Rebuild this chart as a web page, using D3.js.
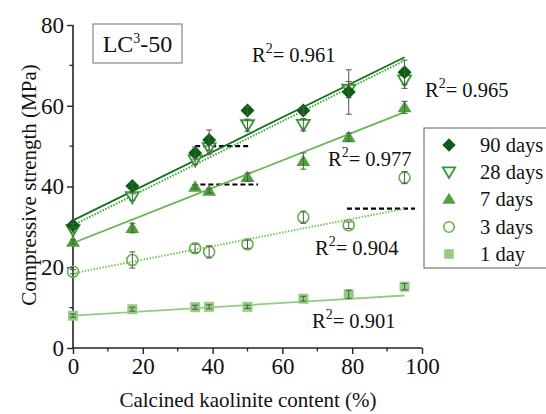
<!DOCTYPE html>
<html><head><meta charset="utf-8">
<script src="https://cdn.jsdelivr.net/npm/d3@7/dist/d3.min.js"></script>
<style>
body{margin:0;background:#fff;overflow:hidden}
svg{display:block}
svg text{font-family:'Liberation Serif','Times New Roman',serif}
</style></head>
<body><svg id="chart" width="546" height="414"></svg>
<script>
// ---- data ----
const kaolinite = [0, 17, 35, 39, 50, 66, 79, 95];
const seriesNames = ["90 days", "28 days", "7 days", "3 days", "1 day"];
const d90 = [30.4, 40.1, 48.3, 51.5, 58.8, 58.8, 63.4, 68.3];
const d28 = [29.2, 37.4, 46.5, 49.5, 55.2, 55.3, 64.0, 66.3];
const d7  = [26.3, 29.7, 39.9, 38.9, 42.3, 46.3, 52.2, 59.6];
const d3v = [18.9, 21.8, 24.7, 23.8, 25.7, 32.4, 30.4, 42.2];
const d1  = [8.0, 9.6, 10.1, 10.2, 10.2, 12.2, 13.3, 15.2];
const e90 = [0.5, 0.8, 1.5, 2.5, 1.0, 1.0, 5.5, 3.0];
const e28 = [0.5, 0.8, 1.0, 1.5, 1.5, 1.5, 2.0, 2.0];
const e7  = [0.5, 1.2, 0.5, 0.5, 1.0, 2.0, 1.0, 1.5];
const e3  = [0.5, 2.0, 1.0, 1.5, 1.0, 1.5, 0.8, 1.5];
const e1  = [0.4, 0.5, 0.5, 0.5, 0.4, 0.6, 1.0, 0.8];
const fitX = [0, 95];
const fit90 = [31.6, 72.0];
const fit28 = [30.4, 71.2];
const fit7  = [26.0, 58.4];
const fit3  = [18.5, 34.5];
const fit1  = [8.0, 13.0];
const r2Labels = ["0.961", "0.965", "0.977", "0.904", "0.901"];
const refLevels = [50, 40.5, 34.5];
const refStart = [35, 36.5, 78.5];
const refEnd = [51, 53, 98];
const xTicks = [0, 20, 40, 60, 80, 100];
const yTicks = [0, 20, 40, 60, 80];

// ---- layout ----
const SERIF = "'Liberation Serif','Times New Roman',serif";
const svg = d3.select("#chart");
const x = d3.scaleLinear().domain([0, 100]).range([73, 422]);
const y = d3.scaleLinear().domain([0, 80]).range([348, 25]);

const colors = ["#0b5e12", "#2f9a2f", "#4da33a", "#62b548", "#93cd82"];
const lineColors = ["#16701c", "#3aa83a", "#62b84c", "#7cc460", "#93cd82"];
const series = [
  {name: seriesNames[0], v: d90, e: e90, fit: fit90, dash: null, sym: "diamond"},
  {name: seriesNames[1], v: d28, e: e28, fit: fit28, dash: "1.5,1.5", sym: "tridown"},
  {name: seriesNames[2], v: d7,  e: e7,  fit: fit7,  dash: null, sym: "triup"},
  {name: seriesNames[3], v: d3v, e: e3,  fit: fit3,  dash: "1.5,1.5", sym: "circle"},
  {name: seriesNames[4], v: d1,  e: e1,  fit: fit1,  dash: null, sym: "square"}
];

// axes
const xAxis = d3.axisBottom(x).tickValues(xTicks).tickSize(6).tickPadding(4).tickFormat(d3.format("d"));
const yAxis = d3.axisLeft(y).tickValues(yTicks).tickSize(6).tickPadding(3).tickFormat(d3.format("d"));
const gx = svg.append("g").attr("transform", "translate(0,348)").call(xAxis);
const gy = svg.append("g").attr("transform", "translate(73,0)").call(yAxis);
[gx, gy].forEach(g => {
  g.attr("font-family", SERIF).attr("font-size", 23);
  g.select(".domain").attr("stroke", "#222").attr("stroke-width", 1.6);
  g.selectAll(".tick line").attr("stroke", "#222").attr("stroke-width", 1.4);
  g.selectAll(".tick text").attr("fill", "#111");
});
gx.select(".domain").attr("d", "M73,0H422");
gy.select(".domain").attr("d", "M0,348V25");
// minor ticks
svg.append("g").selectAll("line").data(d3.range(10, 100, 20)).join("line")
  .attr("x1", d => x(d)).attr("x2", d => x(d)).attr("y1", 348).attr("y2", 351.5)
  .attr("stroke", "#222").attr("stroke-width", 1.3);
svg.append("g").selectAll("line").data(d3.range(10, 80, 20)).join("line")
  .attr("y1", d => y(d)).attr("y2", d => y(d)).attr("x1", 73).attr("x2", 69.5)
  .attr("stroke", "#222").attr("stroke-width", 1.3);

// axis titles
svg.append("text").attr("x", 248).attr("y", 407).attr("text-anchor", "middle")
  .attr("font-size", 21).attr("fill", "#111").text("Calcined kaolinite content (%)");
svg.append("text").attr("transform", "translate(36,185) rotate(-90)").attr("text-anchor", "middle")
  .attr("font-size", 21).attr("fill", "#111").text("Compressive strength (MPa)");

// LC3-50 box
svg.append("rect").attr("x", 93).attr("y", 24).attr("width", 89).attr("height", 39)
  .attr("fill", "#fff").attr("stroke", "#888").attr("stroke-width", 1.2);
const lc = svg.append("text").attr("x", 137.5).attr("y", 52).attr("text-anchor", "middle")
  .attr("font-size", 24).attr("fill", "#111");
lc.append("tspan").text("LC");
lc.append("tspan").attr("dy", -9).attr("font-size", 14).text("3");
lc.append("tspan").attr("dy", 9).text("-50");

// reference dashed lines
svg.append("g").selectAll("line").data(refLevels).join("line")
  .attr("x1", (d, i) => x(refStart[i])).attr("x2", (d, i) => x(refEnd[i]))
  .attr("y1", d => y(d)).attr("y2", d => y(d))
  .attr("stroke", "#000").attr("stroke-width", 2.2).attr("stroke-dasharray", "5,3");

// fit lines (draw from lightest to darkest)
series.slice().reverse().forEach((s) => {
  const i = series.indexOf(s);
  svg.append("line")
    .attr("x1", x(fitX[0])).attr("x2", x(fitX[1]))
    .attr("y1", y(s.fit[0])).attr("y2", y(s.fit[1]))
    .attr("stroke", lineColors[i]).attr("stroke-width", s.dash ? 2 : 1.8)
    .attr("stroke-dasharray", s.dash);
});

// symbol drawing
function drawSym(g, sym, cx, cy, col, scale) {
  const k = scale || 1;
  if (sym === "diamond") {
    const r = 7 * k;
    g.append("path").attr("d", `M${cx},${cy - r}L${cx + r},${cy}L${cx},${cy + r}L${cx - r},${cy}Z`).attr("fill", col);
  } else if (sym === "tridown") {
    const r = 6.5 * k;
    g.append("path").attr("d", `M${cx - r},${cy - r * 0.75}L${cx + r},${cy - r * 0.75}L${cx},${cy + r * 0.95}Z`)
      .attr("fill", "#fff").attr("fill-opacity", 0.6).attr("stroke", col).attr("stroke-width", 1.8);
  } else if (sym === "triup") {
    const r = 7 * k;
    g.append("path").attr("d", `M${cx - r},${cy + r * 0.7}L${cx + r},${cy + r * 0.7}L${cx},${cy - r * 0.95}Z`).attr("fill", col);
  } else if (sym === "circle") {
    g.append("circle").attr("cx", cx).attr("cy", cy).attr("r", 5.5 * k)
      .attr("fill", "none").attr("stroke", col).attr("stroke-width", 1.6);
  } else {
    const r = 5 * k;
    g.append("rect").attr("x", cx - r).attr("y", cy - r).attr("width", 2 * r).attr("height", 2 * r).attr("fill", col);
  }
}

// points + error bars, from lightest to darkest
series.slice().reverse().forEach((s) => {
  const i = series.indexOf(s);
  const g = svg.append("g");
  kaolinite.forEach((k, j) => {
    const cx = x(k), cy = y(s.v[j]);
    drawSym(g, s.sym, cx, cy, colors[i], 1);
    const y1 = y(s.v[j] + s.e[j]), y2 = y(s.v[j] - s.e[j]);
    g.append("path").attr("d", `M${cx},${y1}V${y2}M${cx - 3},${y1}H${cx + 3}M${cx - 3},${y2}H${cx + 3}`)
      .attr("stroke", "#555").attr("stroke-width", 1).attr("fill", "none");
  });
});

// R^2 labels
const r2Pos = [[252, 62], [425, 97], [328, 166], [315, 255], [312, 328]];
r2Labels.forEach((lab, i) => {
  const t = svg.append("text").attr("x", r2Pos[i][0]).attr("y", r2Pos[i][1])
    .attr("font-size", 20.5).attr("fill", "#111");
  t.append("tspan").text("R");
  t.append("tspan").attr("dy", -9).attr("font-size", 14).text("2");
  t.append("tspan").attr("dy", 9).text("= " + lab);
});

// legend
const lg = svg.append("g");
lg.append("rect").attr("x", 424).attr("y", 128).attr("width", 140).attr("height", 140)
  .attr("fill", "#fff").attr("stroke", "#777").attr("stroke-width", 1.2);
const rowY = [145, 172, 199, 227, 254];
series.forEach((s, i) => {
  drawSym(lg, s.sym, 449, rowY[i], colors[i], 0.95);
  lg.append("text").attr("x", 480).attr("y", rowY[i] + 7).attr("font-size", 20.5).attr("fill", "#111").text(s.name);
});
</script></body></html>
